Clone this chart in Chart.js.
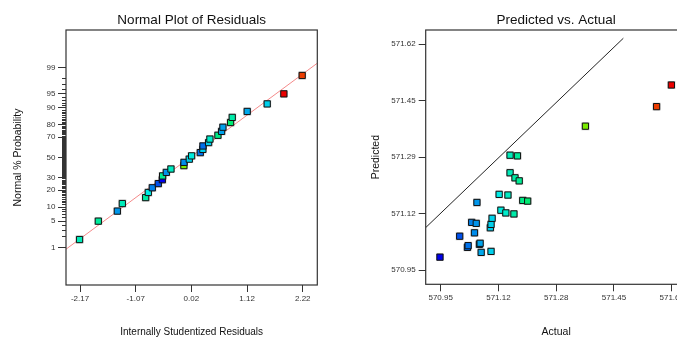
<!DOCTYPE html>
<html>
<head>
<meta charset="utf-8">
<script src="https://cdn.jsdelivr.net/npm/chart.js@4.4.0/dist/chart.umd.min.js"></script>
<style>
  html, body { margin: 0; padding: 0; background: #fff; overflow: hidden; }
  #wrap { position: relative; width: 677px; height: 338px; overflow: hidden; }
  #residChart { position: absolute; left: 0; top: 0; }
  #predChart { position: absolute; left: 340px; top: 0; }
</style>
</head>
<body>
<div id="wrap">
  <canvas id="residChart" width="340" height="338"></canvas>
  <canvas id="predChart" width="360" height="338"></canvas>
</div>
<script>
// runs, in the same order for every array
const actual = [570.952, 571.008, 571.030, 571.032, 571.042, 571.050, 571.055, 571.057, 571.064, 571.066,
                571.069, 571.095, 571.097, 571.097, 571.100, 571.120, 571.125, 571.139, 571.145, 571.151,
                571.151, 571.162, 571.165, 571.172, 571.177, 571.187, 571.201, 571.365, 571.567, 571.609];
const predicted = [570.991, 571.053, 571.020, 571.025, 571.094, 571.063, 571.091, 571.153, 571.029, 571.032,
                   571.005, 571.078, 571.088, 571.008, 571.106, 571.177, 571.130, 571.122, 571.175, 571.293,
                   571.241, 571.119, 571.226, 571.291, 571.217, 571.159, 571.157, 571.379, 571.437, 571.501];
const studResid = [-0.549, -0.628, 0.252, 0.199, -0.746, -0.122, -0.470, -1.435, 0.645, 0.619,
                   1.124, 0.363, 0.250, 1.518, -0.018, -0.825, 0.028, 0.389, -0.379, -2.180,
                   -1.337, 0.829, -0.877, -1.810, -0.543, 0.547, 0.796, -0.124, 2.207, 1.846];

// normal % probability of the sorted residuals
const normalPct = [1.7, 5.0, 8.3, 11.7, 15.0, 18.3, 21.7, 25.0, 28.3, 31.7,
                   35.0, 38.3, 41.7, 45.0, 48.3, 51.7, 55.0, 58.3, 61.7, 65.0,
                   68.3, 71.7, 75.0, 78.3, 81.7, 85.0, 88.3, 91.7, 95.0, 98.3];

// reference lines
const refLineX = [-2.447, 2.505];
const refLinePct = [0.89, 99.26];
const diagX = [570.9115, 571.4726];
const diagY = [571.0785, 571.6396];

// ticks
const residTicks = [-2.171, -1.073, 0.024, 1.122, 2.219];
const probLabels = [1, 5, 10, 20, 30, 50, 70, 80, 90, 95, 99];
const actualTicks = [570.954, 571.118, 571.282, 571.446, 571.610];
const predTicks = [570.952, 571.120, 571.287, 571.454, 571.622];

const probTicks = [];
for (let p = 1; p <= 99; p++) probTicks.push(p);

Chart.defaults.font.family = "'Liberation Sans', Arial, sans-serif";
Chart.defaults.color = '#333';

// inverse normal cdf (Acklam)
function probit(p) {
  const a = [-3.969683028665376e+01, 2.209460984245205e+02, -2.759285104469687e+02, 1.383577518672690e+02, -3.066479806614716e+01, 2.506628277459239e+00];
  const b = [-5.447609879822406e+01, 1.615858368580409e+02, -1.556989798598866e+02, 6.680131188771972e+01, -1.328068155288572e+01];
  const c = [-7.784894002430293e-03, -3.223964580411365e-01, -2.400758277161838e+00, -2.549732539343734e+00, 4.374664141464968e+00, 2.938163982698783e+00];
  const d = [7.784695709041462e-03, 3.224671290700398e-01, 2.445134137142996e+00, 3.754408661907416e+00];
  const pl = 0.02425;
  let q, r;
  if (p < pl) {
    q = Math.sqrt(-2 * Math.log(p));
    return (((((c[0]*q+c[1])*q+c[2])*q+c[3])*q+c[4])*q+c[5]) / ((((d[0]*q+d[1])*q+d[2])*q+d[3])*q+1);
  }
  if (p > 1 - pl) {
    q = Math.sqrt(-2 * Math.log(1 - p));
    return -(((((c[0]*q+c[1])*q+c[2])*q+c[3])*q+c[4])*q+c[5]) / ((((d[0]*q+d[1])*q+d[2])*q+d[3])*q+1);
  }
  q = p - 0.5; r = q * q;
  return (((((a[0]*r+a[1])*r+a[2])*r+a[3])*r+a[4])*r+a[5])*q / (((((b[0]*r+b[1])*r+b[2])*r+b[3])*r+b[4])*r+1);
}

// points coloured by actual value, blue (low) to red (high)
const lo = Math.min(...actual), hi = Math.max(...actual);
const colourFor = v => `hsl(${240 * (1 - (v - lo) / (hi - lo))}, 100%, 46%)`;

const order = actual.map((_, i) => i).sort((i, j) => studResid[i] - studResid[j]);
const normalPts = order.map((run, k) => ({ x: studResid[run], y: probit(normalPct[k] / 100) }));
const normalColours = order.map(run => colourFor(actual[run]));
const refLine = refLineX.map((x, i) => ({ x: x, y: probit(refLinePct[i] / 100) }));

const predPts = actual.map((a, i) => ({ x: a, y: predicted[i] }));
const predColours = actual.map(colourFor);
const diagLine = diagX.map((x, i) => ({ x: x, y: diagY[i] }));

// box round the plot area
const frame = {
  id: 'frame',
  afterDatasetsDraw(chart) {
    const { ctx, chartArea: a } = chart;
    ctx.save();
    ctx.strokeStyle = '#333';
    ctx.lineWidth = 1.2;
    ctx.strokeRect(a.left, a.top, a.right - a.left, a.bottom - a.top);
    ctx.restore();
  }
};

const markerSets = (pts, colours) => [
  { data: pts, pointStyle: 'rect', pointRadius: 4.4, backgroundColor: colours, borderColor: '#111', borderWidth: 1, order: 0 },
  { data: pts, pointStyle: 'rect', pointRadius: 5.6, backgroundColor: 'rgba(90,90,90,0.35)', borderWidth: 0, order: 1 }
];

// title sits over the plot area only
const titleOpts = text => ({
  display: true, text: text, color: '#111', fullSize: false,
  font: { size: 13.5, weight: 'normal' },
  padding: { top: 12.5, bottom: 1.3 }
});

const axisTitle = (text, pad, size) => ({
  display: true, text: text, color: '#111',
  font: { size: size || 10.5 },
  padding: { top: pad, bottom: 0 }
});

const tickFont = { size: 8 };

new Chart(document.getElementById('residChart'), {
  type: 'scatter',
  data: {
    datasets: [
      ...markerSets(normalPts, normalColours),
      { type: 'line', data: refLine, borderColor: '#f48a8a', borderWidth: 1, pointRadius: 0, order: 2 }
    ]
  },
  options: {
    responsive: false,
    devicePixelRatio: 1,
    animation: false,
    events: [],
    layout: { padding: { left: 0, right: 22.7, top: 0, bottom: 0 } },
    plugins: {
      legend: { display: false },
      tooltip: { enabled: false },
      title: titleOpts('Normal Plot of Residuals')
    },
    scales: {
      x: {
        type: 'linear', min: -2.447, max: 2.505,
        afterBuildTicks: s => { s.ticks = residTicks.map(v => ({ value: v })); },
        afterFit: s => { s.height = 53; },
        ticks: { callback: v => v.toFixed(2), font: tickFont, color: '#333', padding: 2, maxRotation: 0, autoSkip: false },
        grid: { drawOnChartArea: false, tickLength: 7, tickColor: '#333', tickWidth: 1 },
        border: { display: false },
        title: axisTitle('Internally Studentized Residuals', 0, 10)
      },
      y: {
        type: 'linear', min: -3.295, max: 3.295,
        afterBuildTicks: s => { s.ticks = probTicks.map(p => ({ value: probit(p / 100) })); },
        afterFit: s => { s.width = 66; },
        ticks: {
          autoSkip: false, font: tickFont, color: '#333', padding: 2.5,
          callback: (v, i) => probLabels.includes(probTicks[i]) ? String(probTicks[i]) : ''
        },
        grid: {
          drawOnChartArea: false, tickLength: 8, tickColor: '#333', tickWidth: 1,
          // short marks for the unlabelled percentages
          tickBorderDash: ctx => (ctx.tick && !probLabels.includes(probTicks[ctx.index])) ? [4, 4] : [],
          tickBorderDashOffset: ctx => (ctx.tick && !probLabels.includes(probTicks[ctx.index])) ? 4 : 0
        },
        border: { display: false },
        title: axisTitle('Normal % Probability', 11.7)
      }
    }
  },
  plugins: [frame]
});

new Chart(document.getElementById('predChart'), {
  type: 'scatter',
  data: {
    datasets: [
      ...markerSets(predPts, predColours),
      { type: 'line', data: diagLine, borderColor: '#222', borderWidth: 1, pointRadius: 0, order: 2 }
    ]
  },
  options: {
    responsive: false,
    devicePixelRatio: 1,
    animation: false,
    events: [],
    layout: { padding: { left: 0, right: 13.3, top: 0, bottom: 0 } },
    plugins: {
      legend: { display: false },
      tooltip: { enabled: false },
      title: titleOpts('Predicted vs. Actual')
    },
    scales: {
      x: {
        type: 'linear', min: 570.9115, max: 571.6525,
        afterBuildTicks: s => { s.ticks = actualTicks.map(v => ({ value: v })); },
        afterFit: s => { s.height = 53.7; },
        ticks: { callback: v => v.toFixed(2), font: tickFont, color: '#333', padding: 2, maxRotation: 0, autoSkip: false },
        grid: { drawOnChartArea: false, tickLength: 7, tickColor: '#333', tickWidth: 1 },
        border: { display: false },
        title: axisTitle('Actual', 0)
      },
      y: {
        type: 'linear', min: 570.9105, max: 571.664,
        afterBuildTicks: s => { s.ticks = predTicks.map(v => ({ value: v })); },
        afterFit: s => { s.width = 85.7; },
        ticks: { callback: v => v.toFixed(2), font: tickFont, color: '#333', padding: 3, autoSkip: false },
        grid: { drawOnChartArea: false, tickLength: 7, tickColor: '#333', tickWidth: 1 },
        border: { display: false },
        title: axisTitle('Predicted', 30)
      }
    }
  },
  plugins: [frame]
});
</script>
</body>
</html>
